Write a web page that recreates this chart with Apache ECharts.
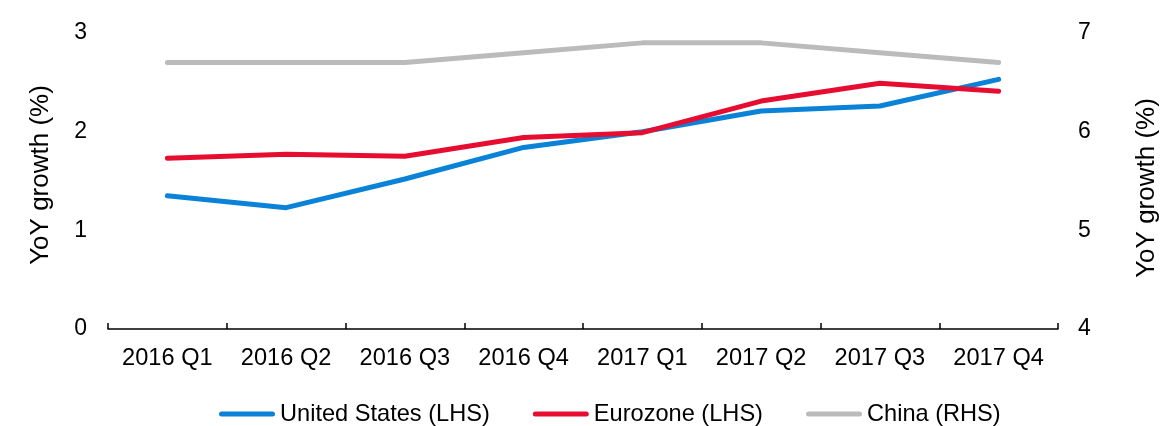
<!DOCTYPE html>
<html>
<head>
<meta charset="utf-8">
<script src="https://cdn.jsdelivr.net/npm/echarts@6/dist/echarts.min.js"></script>
<style>
    html, body { margin: 0; padding: 0; background: #fff; }
    #chart { width: 1168px; height: 426px; }
</style>
</head>
<body>
<div id="chart"></div>
<script>
    // 数据
    var quarters = ['2016 Q1', '2016 Q2', '2016 Q3', '2016 Q4', '2017 Q1', '2017 Q2', '2017 Q3', '2017 Q4'];
    var unitedStates = [1.35, 1.23, 1.52, 1.84, 2.00, 2.21, 2.26, 2.53];
    var eurozone = [1.73, 1.77, 1.75, 1.94, 1.99, 2.31, 2.49, 2.41];
    var china = [6.7, 6.7, 6.7, 6.8, 6.9, 6.9, 6.8, 6.7];

    var font = '"Liberation Sans", Arial, sans-serif';
    var capsule = 'path://M2.5,0 L53.5,0 A2.5,2.5 0 0 1 53.5,5 L2.5,5 A2.5,2.5 0 0 1 2.5,0 Z';

    var myChart = echarts.init(document.getElementById('chart'));

    function lineSeries(name, data, color, axis) {
        return {
            name: name,
            type: 'line',
            yAxisIndex: axis,
            data: data,
            showSymbol: false,
            symbol: 'none',
            lineStyle: { color: color, width: 5, cap: 'round', join: 'round' },
            itemStyle: { color: color }
        };
    }

    var option = {
        animation: false,
        textStyle: { fontFamily: font },
        grid: { left: 108, right: 100, top: 33, bottom: 97 },
        legend: {
            top: 397,
            left: 214,
            itemWidth: 56,
            itemHeight: 5,
            itemGap: 43,
            icon: capsule,
            textStyle: { fontSize: 23.6, color: '#000', fontFamily: font },
            data: ['United States (LHS)', 'Eurozone (LHS)', 'China (RHS)']
        },
        xAxis: {
            type: 'category',
            data: quarters,
            axisLine: { show: true, lineStyle: { color: '#000', width: 1.5 } },
            axisTick: { show: true, inside: true, length: 6, lineStyle: { color: '#000', width: 1.5 } },
            axisLabel: { fontSize: 23.6, color: '#000', margin: 17, fontFamily: font },
            splitLine: { show: false }
        },
        yAxis: [
            {
                type: 'value',
                min: 0,
                max: 3,
                interval: 1,
                name: 'YoY growth (%)',
                nameLocation: 'middle',
                nameGap: 54,
                nameTextStyle: { fontSize: 26, color: '#000', fontFamily: font, padding: [0, 0, 0, 12] },
                axisLine: { show: false },
                axisTick: { show: false },
                splitLine: { show: false },
                axisLabel: { fontSize: 23, color: '#000', margin: 21, fontFamily: font }
            },
            {
                type: 'value',
                min: 4,
                max: 7,
                interval: 1,
                name: 'YoY growth (%)',
                nameLocation: 'middle',
                nameGap: 76,
                nameTextStyle: { fontSize: 26, color: '#000', fontFamily: font, padding: [0, 14, 0, 0] },
                axisLine: { show: false },
                axisTick: { show: false },
                splitLine: { show: false },
                axisLabel: { fontSize: 23, color: '#000', margin: 20, fontFamily: font }
            }
        ],
        series: [
            lineSeries('China (RHS)', china, '#bbbbbb', 1),
            lineSeries('United States (LHS)', unitedStates, '#0a82d8', 0),
            lineSeries('Eurozone (LHS)', eurozone, '#e60d30', 0)
        ]
    };

    myChart.setOption(option);
</script>
</body>
</html>
